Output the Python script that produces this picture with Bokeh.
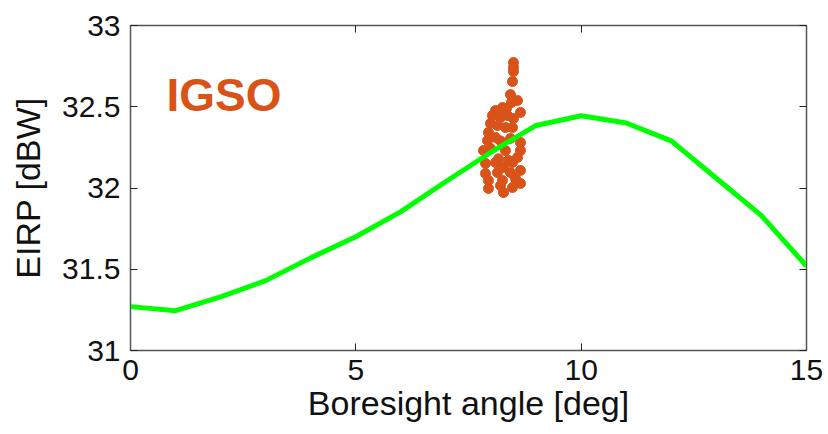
from bokeh.plotting import figure
from bokeh.models import LinearAxis, Range1d, FixedTicker, CustomJSTickFormatter
from bokeh.core.properties import value
from bokeh.embed import file_html
from bokeh.resources import INLINE

# Model curve (green)
angle_deg = [0, 1, 2, 3, 4, 5, 6, 7, 8, 9, 10, 11, 12, 13, 14, 15]
eirp_model = [31.27, 31.245, 31.33, 31.43, 31.57, 31.70, 31.855, 32.04, 32.22,
              32.385, 32.445, 32.40, 32.29, 32.06, 31.83, 31.52]

# Measured IGSO points (orange)
meas_angle = [8.498, 8.498, 8.498, 8.476, 8.431, 8.587, 8.454, 8.254, 8.343, 8.099,
              8.032, 8.210, 8.365, 8.498, 8.653, 7.988, 8.143, 8.320, 8.476, 7.943,
              7.921, 8.099, 8.431, 8.653, 7.832, 7.988, 8.653, 8.587, 7.877, 8.099,
              8.276, 8.476, 7.877, 8.143, 8.431, 8.653, 7.943, 8.254, 8.542, 8.653,
              7.943, 8.276, 8.210, 8.476, 8.210, 8.320, 8.165, 8.387]
meas_eirp = [32.772, 32.742, 32.717, 32.655, 32.575, 32.538, 32.526, 32.495, 32.489, 32.477,
             32.446, 32.434, 32.446, 32.428, 32.465, 32.397, 32.385, 32.372, 32.372, 32.342,
             32.292, 32.311, 32.305, 32.280, 32.231, 32.243, 32.231, 32.188, 32.151, 32.157,
             32.126, 32.157, 32.089, 32.095, 32.095, 32.108, 32.046, 32.046, 32.058, 32.028,
             31.997, 31.972, 32.015, 32.003, 32.290, 32.230, 32.180, 32.170]

x_ticks = [0, 5, 10, 15]
y_ticks = [31, 31.5, 32, 32.5, 33]
label_text = ["IGSO"]
label_x = [0.8]
label_y = [32.57]

FONT = "Liberation Sans"
ORANGE = "#D95319"
FRAME = "#555555"

p = figure(width=826, height=432, output_backend="svg", toolbar_location=None,
           x_range=Range1d(0, 15), y_range=Range1d(31, 33),
           min_border_left=130, min_border_right=20, min_border_top=25, min_border_bottom=82)
p.outline_line_color = FRAME
p.outline_line_width = 1.5
p.xgrid.visible = False
p.ygrid.visible = False

for ax in (p.xaxis[0], p.yaxis[0]):
    ax.major_tick_in = 7
    ax.major_tick_out = 0
    ax.minor_tick_in = 0
    ax.minor_tick_out = 0
    ax.axis_line_color = FRAME
    ax.major_tick_line_color = "#222222"
    ax.major_label_text_font = FONT
    ax.major_label_text_font_size = "30px"
    ax.major_label_text_color = "#111111"
    ax.axis_label_text_font = FONT
    ax.axis_label_text_font_size = "34px"
    ax.axis_label_text_font_style = "normal"
    ax.axis_label_text_color = "#111111"

p.xaxis[0].ticker = FixedTicker(ticks=x_ticks)
p.yaxis[0].ticker = FixedTicker(ticks=y_ticks)
p.xaxis[0].axis_label = "Boresight angle [deg]"
p.yaxis[0].axis_label = "EIRP [dBW]"
p.xaxis[0].major_label_standoff = 9
p.yaxis[0].major_label_standoff = 10
p.xaxis[0].axis_label_standoff = 1
p.yaxis[0].axis_label_standoff = 12

blank = CustomJSTickFormatter(code="return '';")
right = LinearAxis(ticker=FixedTicker(ticks=y_ticks), formatter=blank,
                   major_tick_in=7, major_tick_out=0,
                   minor_tick_in=0, minor_tick_out=0,
                   major_label_standoff=0, axis_line_color=FRAME,
                   major_tick_line_color="#222222")
top = LinearAxis(ticker=FixedTicker(ticks=x_ticks), formatter=blank,
                 major_tick_in=7, major_tick_out=0,
                 minor_tick_in=0, minor_tick_out=0,
                 major_label_standoff=0, axis_line_color=FRAME,
                 major_tick_line_color="#222222")
p.add_layout(right, "right")
p.add_layout(top, "above")

p.scatter(meas_angle, meas_eirp, marker="circle", size=10, fill_color=ORANGE,
          line_color=ORANGE, line_width=1)
p.line(angle_deg, eirp_model, line_color="#00FF00", line_width=5)

p.text(x=label_x, y=label_y, text=label_text, text_color=ORANGE,
       text_font=value(FONT), text_font_size="46px", text_font_style="bold",
       text_baseline="alphabetic", text_align="left")

open("out.html", "w").write(file_html(p, INLINE))
